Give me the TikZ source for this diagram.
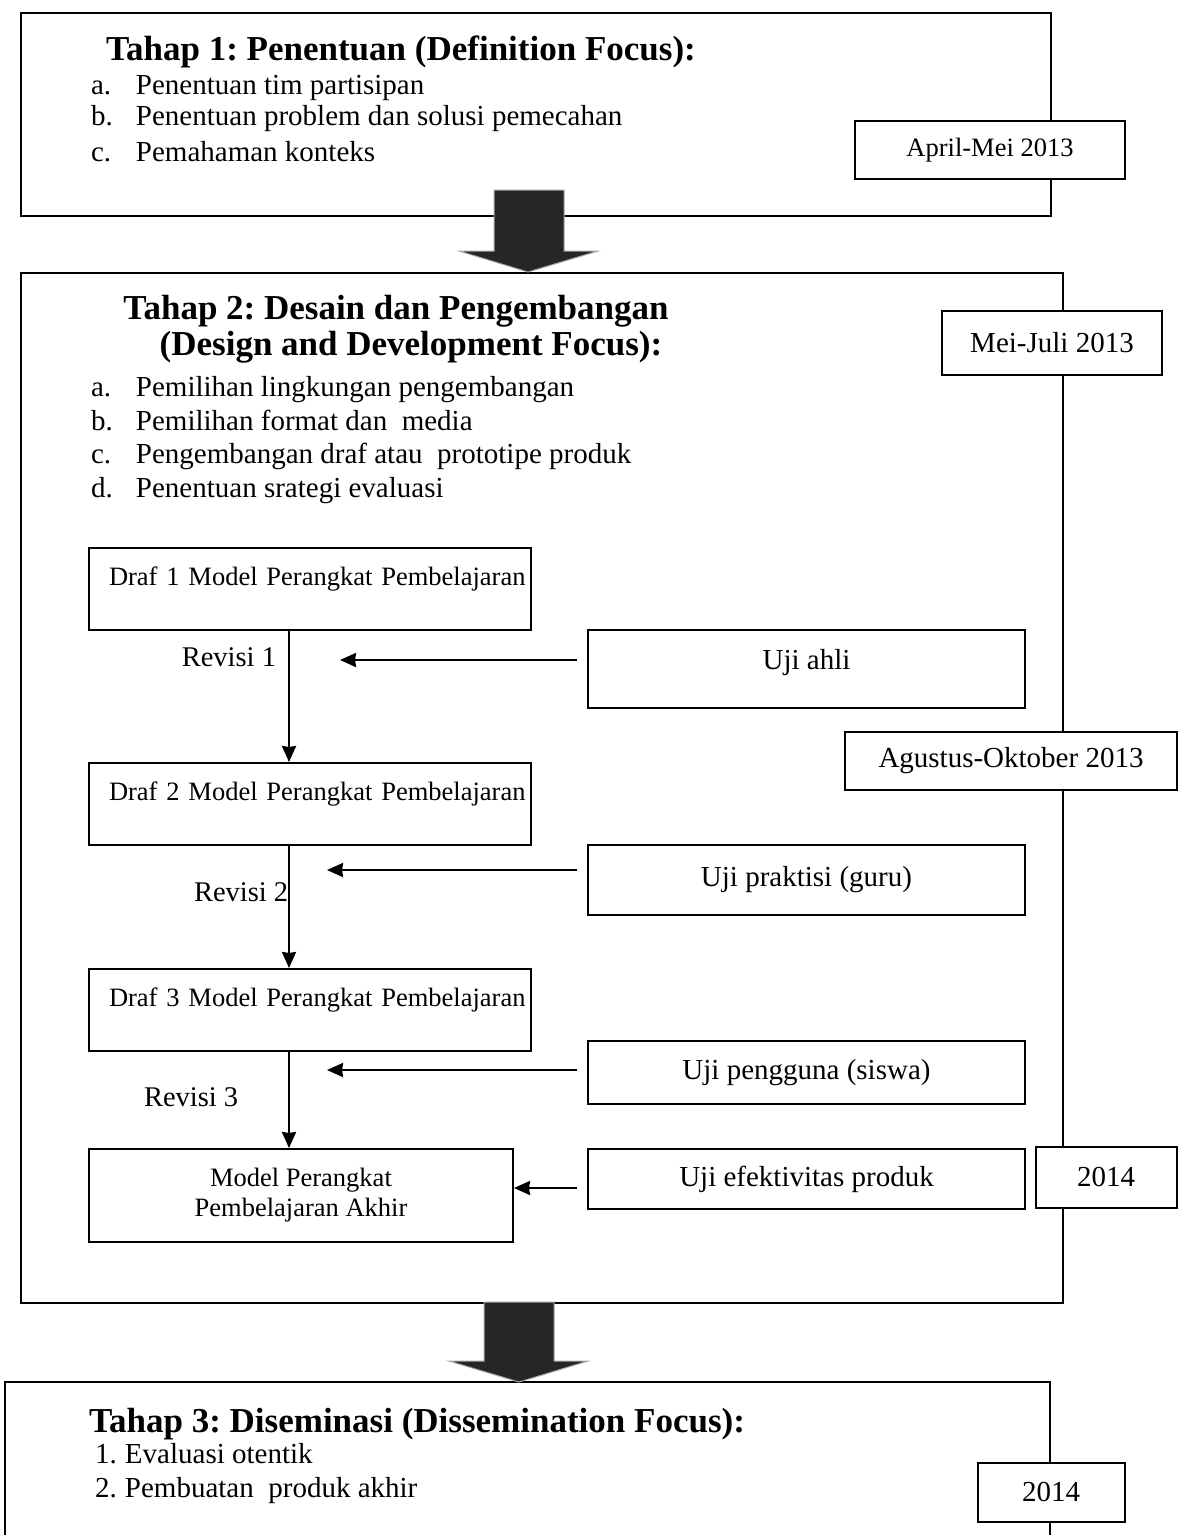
\documentclass[tikz,border=0pt]{standalone}
\usepackage{fontspec}
\setmainfont{Liberation Serif}
\usetikzlibrary{positioning,arrows.meta}
\frenchspacing

\begin{document}
\begin{tikzpicture}[x=1pt,y=-1pt,->,>={Stealth[length=16pt,width=14pt,inset=1pt]},line width=2pt,
      kotak/.style={draw,rectangle,fill=white,inner sep=0pt,font=\fontsize{29}{33}\selectfont},
      tahap/.style={draw,rectangle,anchor=north west,inner sep=0pt},
      tanggal/.style={kotak,align=center},
      draf/.style={kotak,anchor=north west,align=left,minimum width=442pt,text width=442pt,text height=37pt,text depth=45pt,font=\fontsize{26.5}{30}\selectfont},
      uji/.style={kotak,anchor=north west,minimum width=437pt},
      judul/.style={anchor=base west,inner sep=0pt,font=\fontsize{35}{40}\selectfont\bfseries},
      butir/.style={anchor=base west,inner sep=0pt,font=\fontsize{29}{33}\selectfont},
      revisi/.style={inner sep=0pt,font=\fontsize{28.5}{32}\selectfont},
      panah/.style={-,fill=black!85,draw=black!35,line width=1pt}]
			\useasboundingbox (0,0) rectangle (1187,1535);
			% tiga tahap
			\node[tahap,minimum width=1030pt,minimum height=203pt] (tahap1) at (20,12) {};
			\node[tahap,minimum width=1042pt,minimum height=1030pt] (tahap2) at (20,272) {};
			\draw[-] (5,1545) -- (5,1382) -- (1050,1382) -- (1050,1545);
			\draw[panah] (494,190) -- (564,190) -- (564,251) -- (598,251) -- (528,272) -- (459,251) -- (494,251) -- cycle;
			\draw[panah] (484,1302) -- (554,1302) -- (554,1361) -- (588,1361) -- (519,1382) -- (449,1361) -- (484,1361) -- cycle;

			\node[judul] (judul1) at (105,60) {Tahap 1: Penentuan (Definition Focus):};
			\node[butir] (t1a) at (90,94) {\makebox[45pt][l]{a.}Penentuan tim partisipan};
			\node[butir] (t1b) at (90,125) {\makebox[45pt][l]{b.}Penentuan problem dan solusi pemecahan};
			\node[butir] (t1c) at (90,161) {\makebox[45pt][l]{c.}Pemahaman konteks};

			\node[judul,anchor=base] (judul2) at (396,319) {Tahap 2: Desain dan Pengembangan};
			\node[judul,anchor=base] (judul2b) at (411,355) {(Design and Development Focus):};
			\node[butir] (t2a) at (90,396) {\makebox[45pt][l]{a.}Pemilihan lingkungan pengembangan};
			\node[butir] (t2b) at (90,430) {\makebox[45pt][l]{b.}Pemilihan format dan\ \ media};
			\node[butir] (t2c) at (90,463) {\makebox[45pt][l]{c.}Pengembangan draf atau\ \ prototipe produk};
			\node[butir] (t2d) at (90,497) {\makebox[45pt][l]{d.}Penentuan srategi evaluasi};

			\node[judul] (judul3) at (88,1432) {Tahap 3: Diseminasi (Dissemination Focus):};
			\node[butir] (t3a) at (94,1463) {\makebox[30pt][l]{1.}Evaluasi otentik};
			\node[butir] (t3b) at (94,1497) {\makebox[30pt][l]{2.}Pembuatan\ \ produk akhir};

			% waktu
			\node[tanggal,minimum width=270pt,minimum height=58pt,font=\fontsize{26.5}{30}\selectfont] (waktu1) at (990,150) {April-Mei 2013};
			\node[tanggal,minimum width=220pt,minimum height=64pt] (waktu2) at (1052,343) {Mei-Juli 2013};
			\node[tanggal,minimum width=332pt,minimum height=58pt] (waktu3) at (1011,761) {Agustus-Oktober 2013};
			\node[tanggal,minimum width=141pt,minimum height=61pt] (waktu4) at (1106,1177) {2014};
			\node[tanggal,minimum width=147pt,minimum height=59pt] (waktu5) at (1051,1492) {2014};

			% draf dan uji
			\node[draf] (draf1) at (88,547) {\hspace*{20pt}Draf 1 Model Perangkat Pembelajaran};
			\node[draf] (draf2) at (88,762) {\hspace*{20pt}Draf 2 Model Perangkat Pembelajaran};
			\node[draf] (draf3) at (88,968) {\hspace*{20pt}Draf 3 Model Perangkat Pembelajaran};
			\node[kotak,anchor=north west,align=center,minimum width=424pt,minimum height=93pt,font=\fontsize{26.5}{30}\selectfont] (akhir) at (88,1148) {Model Perangkat\\Pembelajaran Akhir};
			\node[uji,minimum height=78pt,text depth=19pt] (uji1) at (587,629) {Uji ahli};
			\node[uji,minimum height=70pt] (uji2) at (587,844) {Uji praktisi (guru)};
			\node[uji,minimum height=63pt] (uji3) at (587,1040) {Uji pengguna (siswa)};
			\node[uji,minimum height=60pt] (uji4) at (587,1148) {Uji efektivitas produk};

			\node[revisi,anchor=base east] (rev1) at (277,666) {Revisi 1};
			\node[revisi,anchor=base west] (rev2) at (193,901) {Revisi 2};
			\node[revisi,anchor=base west] (rev3) at (143,1106) {Revisi 3};

			\coordinate (jalur) at (289,0);
			\coordinate (r1) at (340,660);
			\coordinate (r2) at (327,870);
			\coordinate (r3) at (327,1070);
			\coordinate (r4) at (0,1188);
			\path[line width=2.5pt]
				(draf1.south -| jalur) edge (draf2.north -| jalur)
				(draf2.south -| jalur) edge (draf3.north -| jalur)
				(draf3.south -| jalur) edge (akhir.north -| jalur)
				(uji1.west |- r1) edge[shorten <=10pt] (r1)
				(uji2.west |- r2) edge[shorten <=10pt] (r2)
				(uji3.west |- r3) edge[shorten <=10pt] (r3)
				(uji4.west |- r4) edge[shorten <=10pt] (akhir.east |- r4);
		\end{tikzpicture}
\end{document}
